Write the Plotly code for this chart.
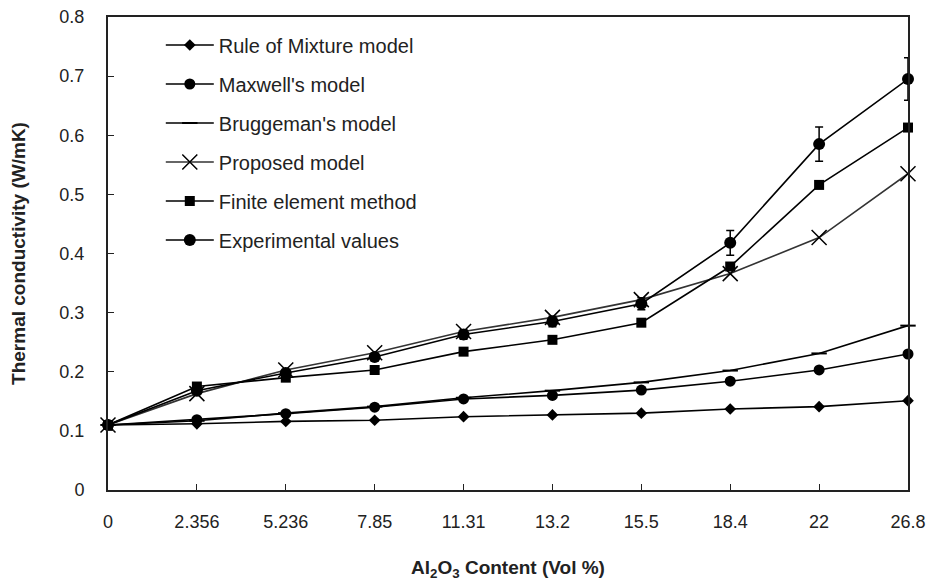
import plotly.graph_objects as go

categories = ["0", "2.356", "5.236", "7.85", "11.31", "13.2", "15.5", "18.4", "22", "26.8"]

rule_of_mixture = [0.110, 0.112, 0.116, 0.118, 0.124, 0.127, 0.130, 0.137, 0.141, 0.151]
maxwell = [0.110, 0.119, 0.129, 0.140, 0.154, 0.160, 0.169, 0.184, 0.203, 0.230]
bruggeman = [0.110, 0.117, 0.130, 0.141, 0.156, 0.168, 0.182, 0.202, 0.231, 0.278]
proposed = [0.110, 0.163, 0.203, 0.232, 0.268, 0.292, 0.322, 0.366, 0.427, 0.535]
fem = [0.110, 0.175, 0.190, 0.203, 0.234, 0.254, 0.283, 0.378, 0.516, 0.613]
experimental = [0.110, 0.168, 0.198, 0.225, 0.263, 0.285, 0.315, 0.418, 0.585, 0.695]
experimental_err = [0.0, 0.004, 0.005, 0.006, 0.008, 0.009, 0.010, 0.021, 0.029, 0.036]

font_family = "Arial, Liberation Sans, sans-serif"

fig = go.Figure()

series = [
    ("Rule of Mixture model", rule_of_mixture, dict(symbol="diamond", size=9), "black", None),
    ("Maxwell's model", maxwell, dict(symbol="circle", size=11), "black", None),
    ("Bruggeman's model", bruggeman, dict(symbol="line-ew-open", size=11, line=dict(width=2, color="black")), "black", None),
    ("Proposed model", proposed, dict(symbol="x-thin-open", size=15, line=dict(width=1.5, color="#222")), "#333", None),
    ("Finite element method", fem, dict(symbol="square", size=10), "black", None),
    ("Experimental values", experimental, dict(symbol="circle", size=12), "black", experimental_err),
]

for i, (name, vals, marker, lc, err) in enumerate(series):
    m = dict(color="black")
    m.update(marker)
    tr = go.Scatter(
        x=categories, y=vals, name=name, mode="lines+markers",
        line=dict(color=lc, width=1.6), marker=m,
        legendgroup=f"g{i}", cliponaxis=False,
    )
    if err is not None:
        tr.error_y = dict(type="data", array=err, visible=True, color="black", thickness=1.5, width=4)
    fig.add_trace(tr)

fig.update_layout(
    width=935, height=585,
    margin=dict(l=100, r=35, t=9, b=103),
    paper_bgcolor="white", plot_bgcolor="white",
    font=dict(family=font_family, color="#222", size=18),
    showlegend=True,
    legend=dict(
        x=0.066, y=0.982, xanchor="left", yanchor="top",
        font=dict(size=20, color="#222"),
        bgcolor="rgba(0,0,0,0)", tracegroupgap=10, traceorder="grouped",
        itemwidth=48,
    ),
    xaxis=dict(
        type="category", range=[0, 9], automargin=False,
        showline=True, linecolor="#222", linewidth=2, mirror=True,
        ticks="inside", ticklen=6, tickcolor="#222",
        tickfont=dict(size=18, color="#222"), ticklabelstandoff=14,
        ticklabeloverflow="allow",
        showgrid=False, zeroline=False,
        title=dict(text="<b>Al<sub>2</sub>O<sub>3</sub> Content (Vol %)</b>", font=dict(size=19, color="#222"), standoff=30),
    ),
    yaxis=dict(
        range=[0, 0.8], dtick=0.1, tickformat="~g", automargin=False,
        showline=True, linecolor="#222", linewidth=2, mirror=True,
        ticks="inside", ticklen=6, tickcolor="#222",
        tickfont=dict(size=18, color="#222"), ticklabelstandoff=18,
        ticklabeloverflow="allow",
        showgrid=False, zeroline=False,
        title=dict(text="<b>Thermal conductivity (W/mK)</b>", font=dict(size=19, color="#222"), standoff=29),
    ),
)

fig.write_html("out.html")
